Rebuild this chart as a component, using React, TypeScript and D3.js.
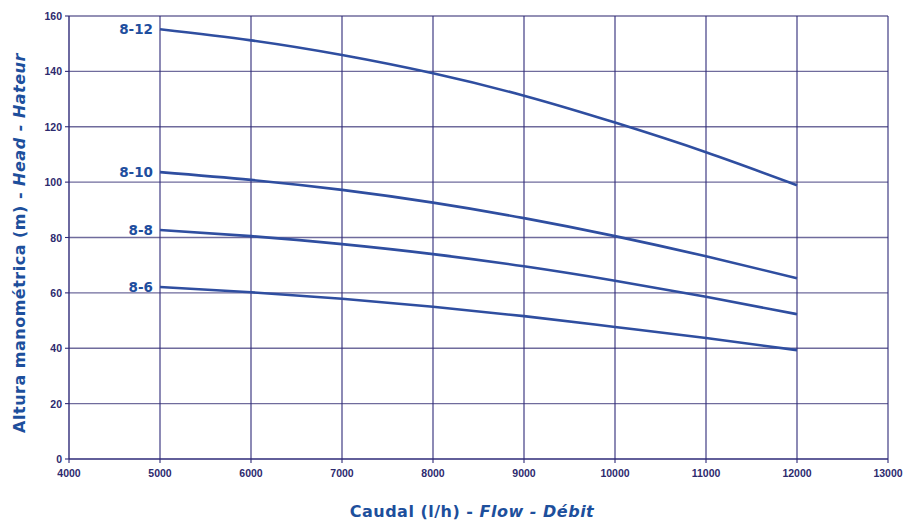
import React, { useEffect, useRef } from "react";
import * as d3 from "d3";

const flows = [5000, 6000, 7000, 8000, 9000, 10000, 11000, 12000];
const head812 = [155.2, 151.2, 145.9, 139.3, 131.2, 121.5, 110.8, 98.9];
const head810 = [103.6, 100.8, 97.2, 92.6, 87.0, 80.5, 73.2, 65.3];
const head88 = [82.7, 80.5, 77.6, 74.0, 69.6, 64.4, 58.6, 52.3];
const head86 = [62.1, 60.2, 57.9, 55.0, 51.6, 47.7, 43.7, 39.3];
const seriesNames = ["8-12", "8-10", "8-8", "8-6"];
const seriesValues = [head812, head810, head88, head86];
const xTicks = [4000, 5000, 6000, 7000, 8000, 9000, 10000, 11000, 12000, 13000];
const yTicks = [0, 20, 40, 60, 80, 100, 120, 140, 160];

export default function App() {
  const ref = useRef<SVGSVGElement>(null);
  useEffect(() => {
    const svg = d3.select(ref.current);
    svg.selectAll("*").remove();
    const x = d3.scaleLinear().domain([4000, 13000]).range([69, 888]);
    const y = d3.scaleLinear().domain([0, 160]).range([459, 16]);
    const axisColor = "#2e2a78";
    const lineColor = "#2f4ea0";

    const g = svg.append("g");
    g.selectAll(".hg").data(yTicks.filter(v => v > 0)).enter().append("line")
      .attr("x1", x(4000)).attr("x2", x(13000))
      .attr("y1", d => y(d)).attr("y2", d => y(d))
      .attr("stroke", "#6f6b9c").attr("stroke-width", 1.3);
    g.selectAll(".vg").data(xTicks.filter(v => v > 4000)).enter().append("line")
      .attr("y1", y(0)).attr("y2", y(160))
      .attr("x1", d => x(d)).attr("x2", d => x(d))
      .attr("stroke", axisColor).attr("stroke-width", 1.1);
    g.append("line").attr("x1", x(4000)).attr("x2", x(4000)).attr("y1", y(0)).attr("y2", y(160))
      .attr("stroke", axisColor).attr("stroke-width", 1.4);
    g.append("line").attr("x1", x(4000)).attr("x2", x(13000)).attr("y1", y(0)).attr("y2", y(0))
      .attr("stroke", axisColor).attr("stroke-width", 1.4);
    g.selectAll(".xt").data(xTicks).enter().append("line")
      .attr("x1", d => x(d)).attr("x2", d => x(d)).attr("y1", y(0)).attr("y2", y(0) + 4)
      .attr("stroke", axisColor).attr("stroke-width", 1.1);
    g.selectAll(".yt").data(yTicks).enter().append("line")
      .attr("x1", x(4000) - 4).attr("x2", x(4000)).attr("y1", d => y(d)).attr("y2", d => y(d))
      .attr("stroke", axisColor).attr("stroke-width", 1.1);
    g.selectAll(".xl").data(xTicks).enter().append("text")
      .attr("x", d => x(d)).attr("y", y(0) + 18)
      .attr("text-anchor", "middle")
      .attr("font-family", "Liberation Sans, Arial, sans-serif").attr("font-weight", "bold")
      .attr("font-size", 10.5).attr("fill", "#2d2a6e").text(d => String(d));
    g.selectAll(".yl").data(yTicks).enter().append("text")
      .attr("x", x(4000) - 7).attr("y", d => y(d) + 4)
      .attr("text-anchor", "end")
      .attr("font-family", "Liberation Sans, Arial, sans-serif").attr("font-weight", "bold")
      .attr("font-size", 10.5).attr("fill", "#2d2a6e").text(d => String(d));

    const line = d3.line<number>()
      .x((_, i) => x(flows[i]))
      .y(d => y(d))
      .curve(d3.curveNatural);
    seriesValues.forEach((vals, si) => {
      g.append("path").attr("d", line(vals) || "")
        .attr("fill", "none").attr("stroke", lineColor).attr("stroke-width", 2.6);
      g.append("text")
        .attr("x", x(flows[0]) - 7).attr("y", y(vals[0]) + 5)
        .attr("text-anchor", "end")
        .attr("font-family", "DejaVu Sans, sans-serif").attr("font-weight", "bold")
        .attr("font-size", 13.5).attr("fill", "#1f4e9e").text(seriesNames[si]);
    });

    const xt = g.append("text").attr("x", 472).attr("y", 517).attr("text-anchor", "middle")
      .attr("font-family", "DejaVu Sans, sans-serif").attr("font-weight", "bold")
      .attr("font-size", 16).attr("letter-spacing", 0.5).attr("fill", "#1d4f9c");
    xt.append("tspan").text("Caudal (l/h) - ");
    xt.append("tspan").attr("font-style", "italic").text("Flow - Débit");

    const yt = g.append("text").attr("transform", "translate(25,243) rotate(-90)")
      .attr("text-anchor", "middle")
      .attr("font-family", "DejaVu Sans, sans-serif").attr("font-weight", "bold")
      .attr("font-size", 16).attr("letter-spacing", 0.5).attr("fill", "#1d4f9c");
    yt.append("tspan").text("Altura manométrica (m) - ");
    yt.append("tspan").attr("font-style", "italic").text("Head - Hateur");
  }, []);
  return (
    <svg ref={ref} width={904} height={522}
      style={{ position: "absolute", left: 0, top: 0, background: "#fff" }} />
  );
}
